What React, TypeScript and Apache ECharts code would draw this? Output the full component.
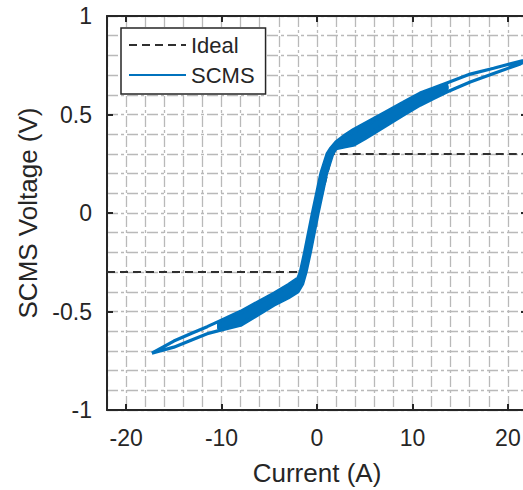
import { useEffect, useRef } from "react";
import * as echarts from "echarts";

// Ideal characteristic: clamped at ±0.3 V
const idealCurrent = [-22, -1.5, 1.6, 22];
const idealVoltage = [-0.3, -0.3, 0.3, 0.3];

// Measured SCMS traces, [current (A), voltage (V)] per point.
// Largest excursion cycle.
const outerCycle: [number, number][] = [
  [-17.3, -0.712], [-15, -0.681], [-13, -0.642], [-11.5, -0.613], [-10.3, -0.597],
  [-8, -0.57], [-6, -0.512], [-4.5, -0.468], [-3, -0.431], [-2, -0.4], [-1.5, -0.36],
  [-1.15, -0.3], [-0.7, -0.2], [0.12, 0], [1.0, 0.2], [1.65, 0.3], [2, 0.327],
  [3, 0.337], [3.8, 0.344], [5, 0.376], [7.3, 0.445], [9, 0.495], [10.8, 0.547],
  [12.2, 0.581], [13.6, 0.614], [16.05, 0.665], [18.5, 0.708], [21.3, 0.757],
  [22.3, 0.782],
  [21.3, 0.77], [18.5, 0.735], [16.05, 0.705], [13.6, 0.66], [12.2, 0.634],
  [10.8, 0.609], [9, 0.561], [7.3, 0.516], [5, 0.455], [3.8, 0.423], [3, 0.398],
  [2, 0.362], [1.45, 0.33], [1.05, 0.3], [0.4, 0.2], [-0.48, 0], [-1.3, -0.2],
  [-1.75, -0.3], [-2, -0.33], [-3, -0.363], [-4.5, -0.407], [-6, -0.446],
  [-8, -0.499], [-10.3, -0.55], [-11.5, -0.577], [-13, -0.608], [-15, -0.65],
  [-17.3, -0.712],
];

// Smaller cycles that overlap in the central band.
const cycleA: [number, number][] = [
  [-10.3, -0.589], [-8, -0.558], [-6, -0.501], [-4.5, -0.458], [-3, -0.419],
  [-2, -0.388], [-1.54, -0.35], [-1.25, -0.3], [-0.8, -0.2], [0.02, 0], [0.9, 0.2],
  [1.55, 0.3], [2, 0.333], [3, 0.347], [3.8, 0.357], [5, 0.389], [7.3, 0.457],
  [9, 0.506], [10.8, 0.558], [12.2, 0.59], [13.6, 0.622],
  [13.6, 0.652], [12.2, 0.625], [10.8, 0.598], [9, 0.55], [7.3, 0.504], [5, 0.442],
  [3.8, 0.41], [3, 0.388], [2, 0.356], [1.49, 0.325], [1.15, 0.3], [0.5, 0.2],
  [-0.38, 0], [-1.2, -0.2], [-1.65, -0.3], [-2, -0.342], [-3, -0.375],
  [-4.5, -0.417], [-6, -0.457], [-8, -0.511], [-10.3, -0.558], [-10.3, -0.589],
];

const cycleB: [number, number][] = [
  [-10.3, -0.581], [-8, -0.547], [-6, -0.49], [-4.5, -0.448], [-3, -0.409],
  [-2, -0.377], [-1.58, -0.34], [-1.35, -0.3], [-0.9, -0.2], [-0.08, 0], [0.8, 0.2],
  [1.45, 0.3], [2, 0.339], [3, 0.357], [3.8, 0.37], [5, 0.402], [7.3, 0.468],
  [9, 0.517], [10.8, 0.567], [12.2, 0.598], [13.6, 0.629],
  [13.6, 0.645], [12.2, 0.617], [10.8, 0.589], [9, 0.539], [7.3, 0.493], [5, 0.429],
  [3.8, 0.397], [3, 0.378], [2, 0.35], [1.53, 0.32], [1.25, 0.3], [0.6, 0.2],
  [-0.28, 0], [-1.1, -0.2], [-1.55, -0.3], [-2, -0.353], [-3, -0.385],
  [-4.5, -0.427], [-6, -0.468], [-8, -0.522], [-10.3, -0.566], [-10.3, -0.581],
];

const cycleC: [number, number][] = [
  [-10.3, -0.577], [-8, -0.54], [-6, -0.484], [-4.5, -0.442], [-3, -0.402],
  [-2, -0.371], [-1.6, -0.335], [-1.4, -0.3], [-0.95, -0.2], [-0.13, 0], [0.75, 0.2],
  [1.4, 0.3], [2, 0.342], [3, 0.363], [3.8, 0.377], [5, 0.409], [7.3, 0.475],
  [9, 0.523], [10.8, 0.573], [12.2, 0.603], [13.6, 0.633],
  [13.6, 0.641], [12.2, 0.612], [10.8, 0.583], [9, 0.533], [7.3, 0.486], [5, 0.422],
  [3.8, 0.39], [3, 0.372], [2, 0.347], [1.56, 0.317], [1.3, 0.3], [0.65, 0.2],
  [-0.23, 0], [-1.05, -0.2], [-1.5, -0.3], [-2, -0.359], [-3, -0.392],
  [-4.5, -0.433], [-6, -0.474], [-8, -0.529], [-10.3, -0.57], [-10.3, -0.577],
];

const scmsCycles = [outerCycle, cycleA, cycleB, cycleC];

const xTickValues = [-20, -10, 0, 10, 20];
const yTickValues = [-1, -0.5, 0, 0.5, 1];

const X_MIN = -22;
const X_MAX = 22;
const X_GRID_STEP = 2;
const Y_MIN = -1;
const Y_MAX = 1;
const Y_GRID_STEP = 0.1;

const FONT = '"Liberation Sans", Arial, Helvetica, sans-serif';
const INK = "#262626";
const BLUE = "#0072BD";
const GRID_LINE = { color: "#b9b9b9", width: 1.3, type: [11, 3, 3, 3] };

export default function App() {
  const ref = useRef<HTMLDivElement>(null);

  useEffect(() => {
    if (!ref.current) return;
    const chart = echarts.init(ref.current, undefined, { renderer: "svg" });

    const axisLine = { show: true, onZero: false, lineStyle: { color: INK, width: 2 } };
    const tickLabel = { fontFamily: FONT, fontSize: 23, color: INK };
    const majorTicks = (values: number[]) => ({
      show: true,
      inside: true,
      length: 6,
      customValues: values,
      lineStyle: { color: INK, width: 2 },
    });
    const hidden = { show: false };

    chart.setOption({
      animation: false,
      backgroundColor: "#ffffff",
      textStyle: { fontFamily: FONT },
      grid: {
        left: 107,
        top: 16,
        right: -4,
        bottom: 80,
        containLabel: false,
        outerBoundsMode: "none",
      },
      legend: {
        data: [
          { name: "Ideal", itemStyle: { opacity: 0 } },
          { name: "SCMS", itemStyle: { opacity: 0 } },
        ],
        orient: "vertical",
        left: 121,
        top: 28,
        padding: [6, 11, 8, 7],
        itemGap: 8,
        itemWidth: 57,
        itemHeight: 22,
        lineStyle: { width: 2 },
        backgroundColor: "#ffffff",
        borderColor: INK,
        borderWidth: 1.5,
        borderRadius: 0,
        selectedMode: false,
        textStyle: { fontFamily: FONT, fontSize: 22, color: INK },
      },
      xAxis: [
        {
          type: "value",
          min: X_MIN,
          max: X_MAX,
          interval: X_GRID_STEP,
          position: "bottom",
          axisLine,
          axisTick: majorTicks(xTickValues),
          axisLabel: { ...tickLabel, customValues: xTickValues, margin: 16 },
          splitLine: hidden,
          name: "Current (A)",
          nameLocation: "middle",
          nameGap: 50,
          nameTextStyle: { fontFamily: FONT, fontSize: 26, color: INK },
        },
        {
          type: "value",
          min: X_MIN,
          max: X_MAX,
          interval: X_GRID_STEP,
          position: "top",
          axisLine,
          axisTick: majorTicks(xTickValues),
          axisLabel: hidden,
          splitLine: hidden,
        },
        {
          // grid-only axis: a line every 2 A
          type: "value",
          min: X_MIN,
          max: X_MAX,
          interval: X_GRID_STEP,
          position: "bottom",
          axisLine: hidden,
          axisTick: hidden,
          axisLabel: hidden,
          splitLine: { show: true, lineStyle: GRID_LINE },
          z: 0,
        },
      ],
      yAxis: [
        {
          type: "value",
          min: Y_MIN,
          max: Y_MAX,
          interval: Y_GRID_STEP,
          position: "left",
          axisLine,
          axisTick: majorTicks(yTickValues),
          axisLabel: { ...tickLabel, customValues: yTickValues, margin: 15 },
          splitLine: hidden,
          name: "SCMS Voltage (V)",
          nameLocation: "middle",
          nameRotate: 90,
          nameGap: 66,
          nameTextStyle: { fontFamily: FONT, fontSize: 26, color: INK },
        },
        {
          type: "value",
          min: Y_MIN,
          max: Y_MAX,
          interval: Y_GRID_STEP,
          position: "right",
          axisLine,
          axisTick: majorTicks(yTickValues),
          axisLabel: hidden,
          splitLine: hidden,
        },
        {
          // grid-only axis: a line every 0.1 V
          type: "value",
          min: Y_MIN,
          max: Y_MAX,
          interval: Y_GRID_STEP,
          position: "left",
          axisLine: hidden,
          axisTick: hidden,
          axisLabel: hidden,
          splitLine: { show: true, lineStyle: GRID_LINE },
          z: 0,
        },
      ],
      series: [
        {
          name: "Ideal",
          type: "line",
          xAxisIndex: 0,
          yAxisIndex: 0,
          data: idealCurrent.map((c, i) => [c, idealVoltage[i]]),
          symbol: "none",
          lineStyle: { color: "#303030", width: 2, type: [8, 5] },
          itemStyle: { color: "#303030" },
          z: 2,
        },
        ...scmsCycles.map((cycle) => ({
          name: "SCMS",
          type: "line",
          xAxisIndex: 0,
          yAxisIndex: 0,
          data: cycle,
          symbol: "none",
          lineStyle: { color: BLUE, width: 3.2 },
          itemStyle: { color: BLUE },
          z: 3,
        })),
      ],
    });

    return () => chart.dispose();
  }, []);

  return (
    <div
      ref={ref}
      style={{ position: "absolute", left: 0, top: 0, width: 523, height: 490 }}
    />
  );
}
